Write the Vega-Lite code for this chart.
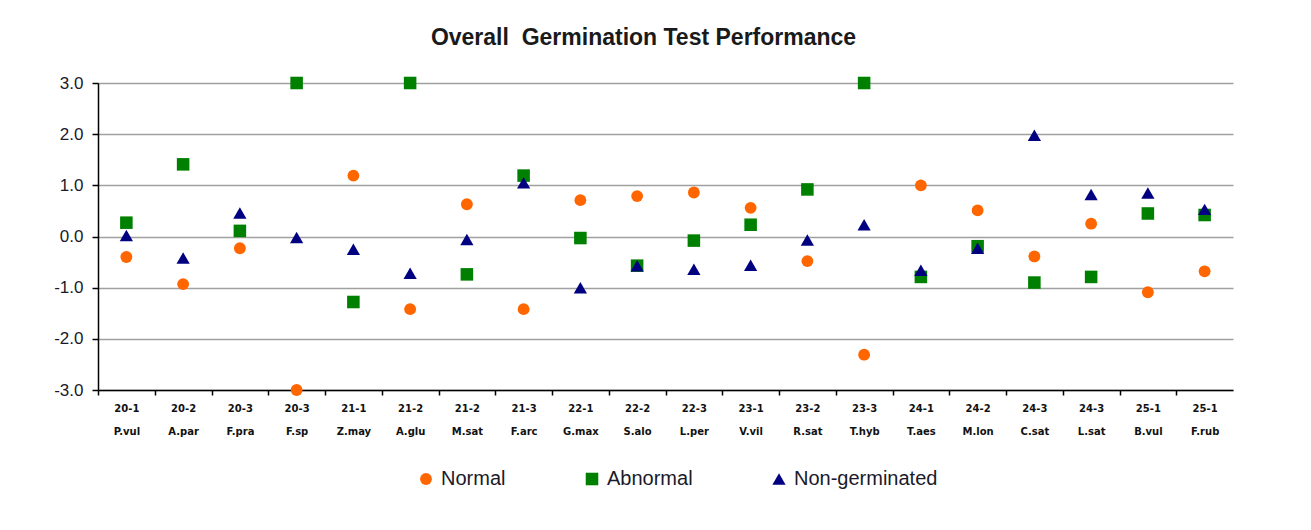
{
  "$schema": "https://vega.github.io/schema/vega-lite/v6.json",
  "width": 1135,
  "height": 307,
  "autosize": {"type": "none"},
  "padding": {"left": 98, "top": 83, "right": 78, "bottom": 140},
  "background": "white",
  "title": {
    "text": "Overall \u00a0Germination Test Performance",
    "font": "Liberation Sans",
    "fontSize": 23,
    "fontWeight": "bold",
    "color": "#1a1a1a",
    "anchor": "middle",
    "dx": -22,
    "offset": 24
  },
  "config": {
    "view": {"stroke": null},
    "font": "Liberation Sans"
  },
  "data": {
    "values": [
      {"cat": "20-1|P.vul", "series": "Normal", "value": -0.40},
      {"cat": "20-2|A.par", "series": "Normal", "value": -0.93},
      {"cat": "20-3|F.pra", "series": "Normal", "value": -0.23},
      {"cat": "20-3|F.sp", "series": "Normal", "value": -3.0},
      {"cat": "21-1|Z.may", "series": "Normal", "value": 1.19},
      {"cat": "21-2|A.glu", "series": "Normal", "value": -1.42},
      {"cat": "21-2|M.sat", "series": "Normal", "value": 0.63},
      {"cat": "21-3|F.arc", "series": "Normal", "value": -1.42},
      {"cat": "22-1|G.max", "series": "Normal", "value": 0.71},
      {"cat": "22-2|S.alo", "series": "Normal", "value": 0.79},
      {"cat": "22-3|L.per", "series": "Normal", "value": 0.86},
      {"cat": "23-1|V.vil", "series": "Normal", "value": 0.56},
      {"cat": "23-2|R.sat", "series": "Normal", "value": -0.48},
      {"cat": "23-3|T.hyb", "series": "Normal", "value": -2.31},
      {"cat": "24-1|T.aes", "series": "Normal", "value": 1.0},
      {"cat": "24-2|M.lon", "series": "Normal", "value": 0.51},
      {"cat": "24-3|C.sat", "series": "Normal", "value": -0.39},
      {"cat": "24-3|L.sat", "series": "Normal", "value": 0.25},
      {"cat": "25-1|B.vul", "series": "Normal", "value": -1.09},
      {"cat": "25-1|F.rub", "series": "Normal", "value": -0.68},
      {"cat": "20-1|P.vul", "series": "Abnormal", "value": 0.27},
      {"cat": "20-2|A.par", "series": "Abnormal", "value": 1.41},
      {"cat": "20-3|F.pra", "series": "Abnormal", "value": 0.11},
      {"cat": "20-3|F.sp", "series": "Abnormal", "value": 3.0},
      {"cat": "21-1|Z.may", "series": "Abnormal", "value": -1.28},
      {"cat": "21-2|A.glu", "series": "Abnormal", "value": 3.0},
      {"cat": "21-2|M.sat", "series": "Abnormal", "value": -0.74},
      {"cat": "21-3|F.arc", "series": "Abnormal", "value": 1.19},
      {"cat": "22-1|G.max", "series": "Abnormal", "value": -0.03},
      {"cat": "22-2|S.alo", "series": "Abnormal", "value": -0.57},
      {"cat": "22-3|L.per", "series": "Abnormal", "value": -0.08},
      {"cat": "23-1|V.vil", "series": "Abnormal", "value": 0.23},
      {"cat": "23-2|R.sat", "series": "Abnormal", "value": 0.92},
      {"cat": "23-3|T.hyb", "series": "Abnormal", "value": 3.0},
      {"cat": "24-1|T.aes", "series": "Abnormal", "value": -0.79},
      {"cat": "24-2|M.lon", "series": "Abnormal", "value": -0.19},
      {"cat": "24-3|C.sat", "series": "Abnormal", "value": -0.90},
      {"cat": "24-3|L.sat", "series": "Abnormal", "value": -0.79},
      {"cat": "25-1|B.vul", "series": "Abnormal", "value": 0.45},
      {"cat": "25-1|F.rub", "series": "Abnormal", "value": 0.42},
      {"cat": "20-1|P.vul", "series": "Non-germinated", "value": 0.02},
      {"cat": "20-2|A.par", "series": "Non-germinated", "value": -0.42},
      {"cat": "20-3|F.pra", "series": "Non-germinated", "value": 0.46},
      {"cat": "20-3|F.sp", "series": "Non-germinated", "value": -0.02},
      {"cat": "21-1|Z.may", "series": "Non-germinated", "value": -0.25},
      {"cat": "21-2|A.glu", "series": "Non-germinated", "value": -0.72},
      {"cat": "21-2|M.sat", "series": "Non-germinated", "value": -0.06},
      {"cat": "21-3|F.arc", "series": "Non-germinated", "value": 1.05},
      {"cat": "22-1|G.max", "series": "Non-germinated", "value": -1.0},
      {"cat": "22-2|S.alo", "series": "Non-germinated", "value": -0.57},
      {"cat": "22-3|L.per", "series": "Non-germinated", "value": -0.64},
      {"cat": "23-1|V.vil", "series": "Non-germinated", "value": -0.56},
      {"cat": "23-2|R.sat", "series": "Non-germinated", "value": -0.07},
      {"cat": "23-3|T.hyb", "series": "Non-germinated", "value": 0.23},
      {"cat": "24-1|T.aes", "series": "Non-germinated", "value": -0.66},
      {"cat": "24-2|M.lon", "series": "Non-germinated", "value": -0.23},
      {"cat": "24-3|C.sat", "series": "Non-germinated", "value": 1.98},
      {"cat": "24-3|L.sat", "series": "Non-germinated", "value": 0.82},
      {"cat": "25-1|B.vul", "series": "Non-germinated", "value": 0.85},
      {"cat": "25-1|F.rub", "series": "Non-germinated", "value": 0.53}
    ]
  },
  "mark": {"type": "point", "filled": true, "opacity": 1},
  "encoding": {
    "x": {
      "field": "cat",
      "type": "nominal",
      "sort": null,
      "scale": {"type": "band", "paddingInner": 0, "paddingOuter": 0},
      "axis": {
        "title": null,
        "labelAngle": 0,
        "labelExpr": "split(datum.label, '|')",
        "labelFont": "DejaVu Sans",
        "labelFontSize": 10,
        "labelFontWeight": "bold",
        "labelColor": "#111111",
        "labelLineHeight": 23,
        "labelPadding": 8,
        "tickOffset": -28.375,
        "labelOffset": 28.375,
        "tickSize": 5,
        "tickColor": "#000000",
        "tickWidth": 1.5,
        "domainColor": "#000000",
        "domainWidth": 1.5,
        "grid": false
      }
    },
    "y": {
      "field": "value",
      "type": "quantitative",
      "scale": {"domain": [-3, 3], "nice": false, "zero": false},
      "axis": {
        "title": null,
        "values": [-3, -2, -1, 0, 1, 2, 3],
        "labelExpr": "(datum.value < 0 ? '-' : '') + format(abs(datum.value), '.1f')",
        "labelFont": "Liberation Sans",
        "labelFontSize": 17,
        "labelColor": "#1a1a2a",
        "labelPadding": 9,
        "tickSize": 6,
        "tickColor": "#000000",
        "tickWidth": 1.5,
        "domainColor": "#000000",
        "domainWidth": 1.5,
        "grid": true,
        "gridColor": "#a0a0a0",
        "gridWidth": 1.5
      }
    },
    "color": {
      "field": "series",
      "type": "nominal",
      "scale": {
        "domain": ["Normal", "Abnormal", "Non-germinated"],
        "range": ["#ff6600", "#008000", "#000080"]
      },
      "legend": {
        "title": null,
        "orient": "none",
        "direction": "horizontal",
        "legendX": 318,
        "legendY": 386,
        "labelFont": "Liberation Sans",
        "labelFontSize": 20,
        "labelColor": "#1a1a2a",
        "columnPadding": 76,
        "labelOffset": 5,
        "symbolSize": 130
      }
    },
    "shape": {
      "field": "series",
      "type": "nominal",
      "scale": {
        "domain": ["Normal", "Abnormal", "Non-germinated"],
        "range": ["circle", "square", "triangle-up"]
      },
      "legend": null
    },
    "size": {
      "field": "series",
      "type": "nominal",
      "scale": {
        "domain": ["Normal", "Abnormal", "Non-germinated"],
        "range": [140, 175, 150]
      },
      "legend": null
    }
  }
}
